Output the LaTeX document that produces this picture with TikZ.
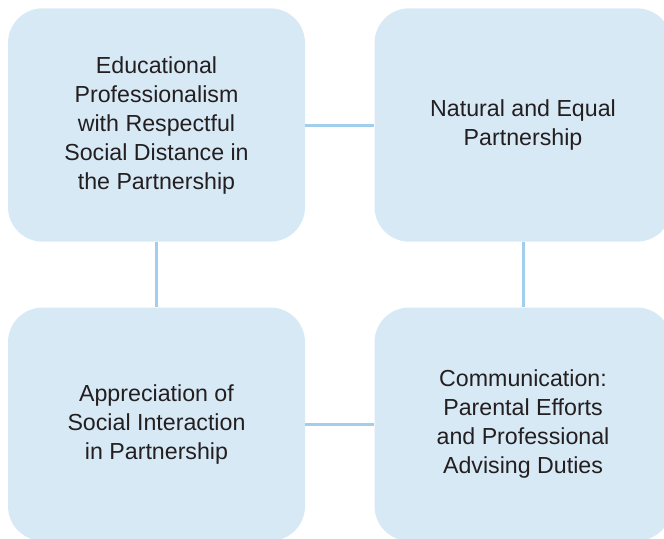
\documentclass[tikz,border=0pt]{standalone}
\usepackage{fontspec}
\setmainfont{Liberation Sans}
\usepackage{xcolor}
\usepackage{tikz}
\usetikzlibrary{positioning}

\definecolor{boxblue}{RGB}{216,233,246}
\definecolor{lineblue}{RGB}{160,206,236}
\definecolor{textgray}{RGB}{35,31,32}

\begin{document}
\begin{tikzpicture}
[
	x = 0.75pt, y = -0.75pt,
	theme/.style	= {rounded corners = 26pt, fill = boxblue, text = textgray, align = center, minimum width = 222.75pt, minimum height = 175pt, inner sep = 0pt, font = \fontsize{17.4pt}{21.75pt}\selectfont},
	link/.style	= {draw = lineblue, line width = 2.25pt},
	node distance = 49pt and 51.75pt,
]

	\useasboundingbox (0,0) rectangle (664,539);
	\clip (0,0) rectangle (664,539);

	\node (prof) [theme] at (156.5,125) {Educational\\Professionalism\\with Respectful\\Social Distance in\\the Partnership};
	\node (equal) [theme, right = of prof] {Natural and Equal\\Partnership};
	%
	\node (social) [theme, below = of prof] {Appreciation of\\Social Interaction\\in Partnership};
	\node (comm) [theme, below = of equal] {Communication:\\Parental Efforts\\and Professional\\Advising Duties};

	\draw [link] (prof) -- (equal);
	\draw [link] (prof) -- (social);
	\draw [link] (equal) -- (comm);
	\draw [link] (social) -- (comm);

\end{tikzpicture}
\end{document}
